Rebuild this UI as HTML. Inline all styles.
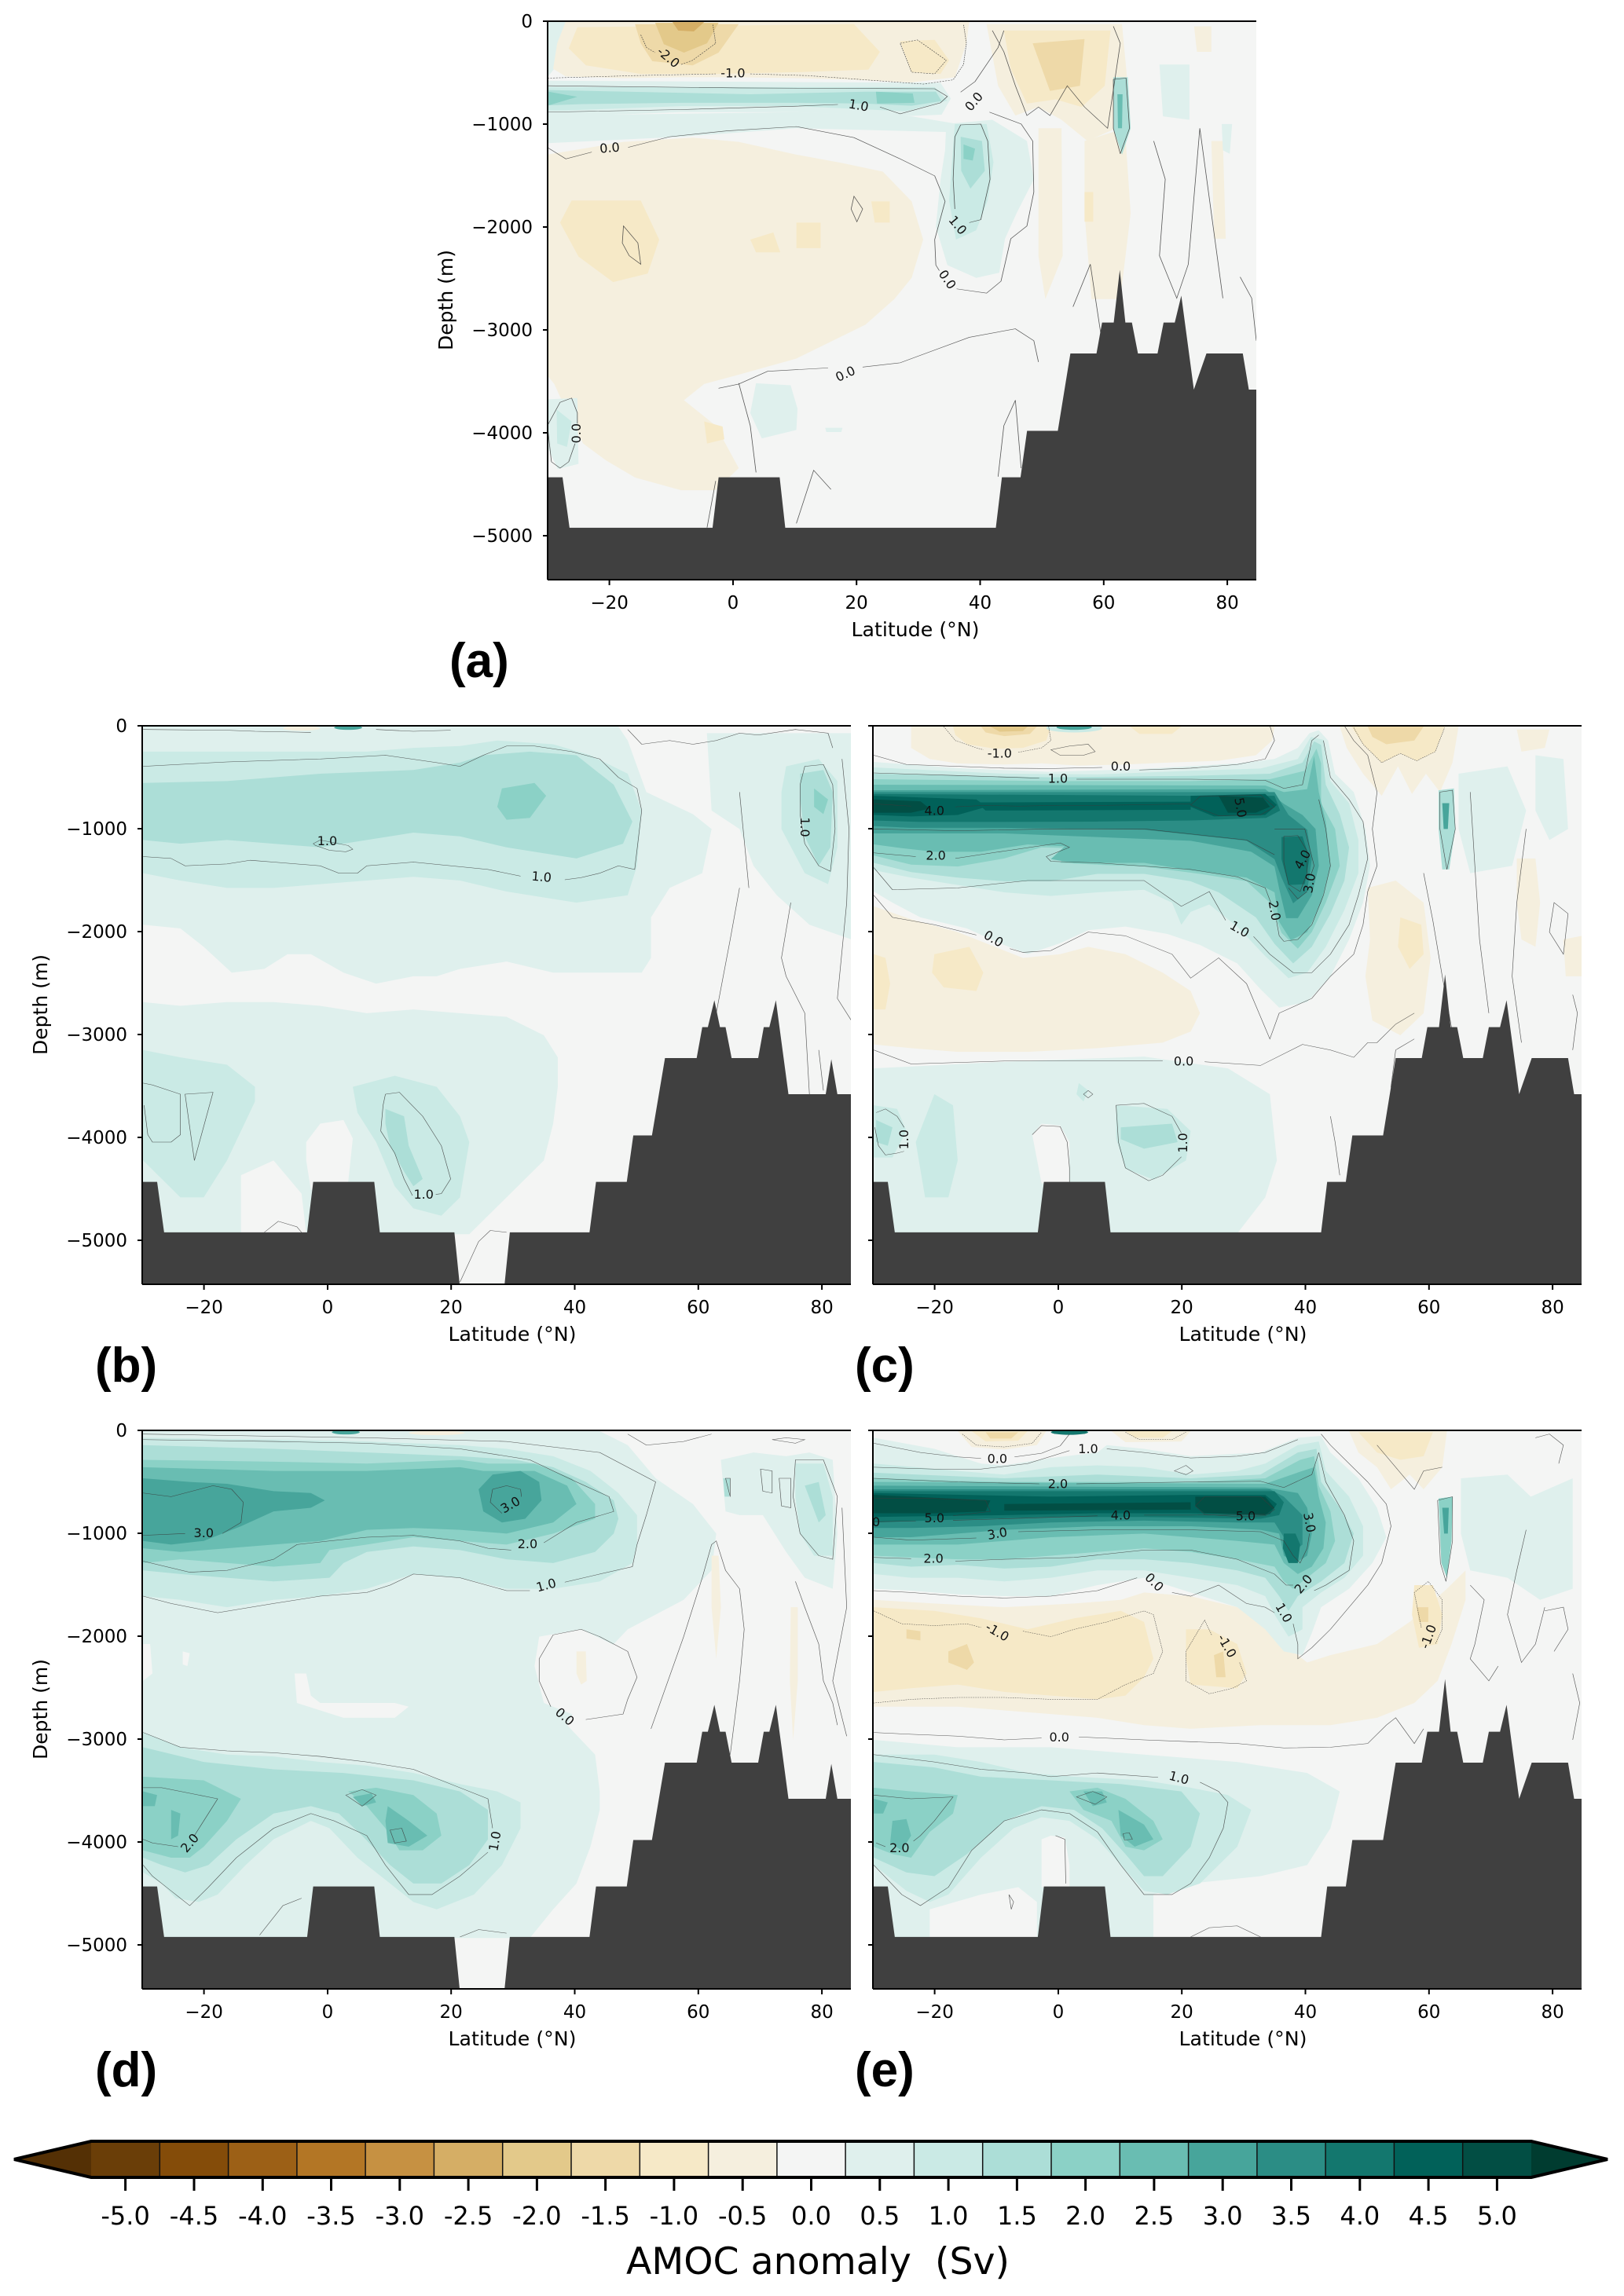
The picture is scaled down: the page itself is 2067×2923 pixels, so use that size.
<!DOCTYPE html>
<html><head><meta charset="utf-8">
<style>
html,body{margin:0;padding:0;background:#fff;}
body{width:2067px;height:2923px;overflow:hidden;}
svg{display:block;}
.cl{fill:none;stroke:#3a3a3a;stroke-width:1.1px;vector-effect:non-scaling-stroke;stroke-opacity:.85;}
.cn{stroke-dasharray:3 2;}
.lb{font-family:"DejaVu Sans","Liberation Sans",sans-serif;font-size:16px;fill:#111;text-anchor:middle;dominant-baseline:central;}
.tk{font-family:"DejaVu Sans","Liberation Sans",sans-serif;font-size:23px;fill:#000;}
.ax{font-family:"DejaVu Sans","Liberation Sans",sans-serif;font-size:25px;fill:#000;}
.pl{font-family:"Liberation Sans","DejaVu Sans",sans-serif;font-size:62px;font-weight:bold;fill:#000;}
.cb{font-family:"DejaVu Sans","Liberation Sans",sans-serif;font-size:32px;fill:#000;text-anchor:middle;}
.sp{stroke:#000;stroke-width:2;fill:none;}
</style></head><body>
<svg width="2067" height="2923" viewBox="0 0 2067 2923" xmlns="http://www.w3.org/2000/svg">
<defs>
<path id="bC" d="M10,1258 L50,1258 L65,1395 L372,1395 L385,1258 L516,1258 L528,1395 L980,1395 L993,1258 L1033,1258 L1047,1132 L1113,1132 L1140,922 L1196,922 L1208,838 L1233,838 L1246,695 L1258,838 L1272,838 L1285,922 L1327,922 L1340,838 L1364,838 L1378,765 L1405,1020 L1432,922 L1510,922 L1523,1020 L1550,1020 L1550,1550 L10,1550 Z"/>
<path id="bB" d="M10,1258 L50,1258 L65,1395 L372,1395 L385,1258 L516,1258 L528,1395 L688,1395 L700,1545 L795,1545 L807,1395 L978,1395 L992,1258 L1058,1258 L1072,1132 L1112,1132 L1140,922 L1208,922 L1220,838 L1232,838 L1246,765 L1258,838 L1270,838 L1283,922 L1340,922 L1352,838 L1364,838 L1378,765 L1405,1020 L1485,1020 L1497,925 L1510,1020 L1550,1020 L1550,1550 L10,1550 Z"/>
</defs>

<!-- ================= PANEL (a) ================= -->
<svg x="697" y="27" width="902" height="711" viewBox="268.4 48 1229.6 1314.5" preserveAspectRatio="none">
<rect x="200" y="0" width="1400" height="1400" fill="#f4f5f4"/>
<polygon fill="#dff0ed" points="268,48 300,48 290,90 280,160 268,180"/>
<polygon fill="#f5efde" points="300,48 1000,48 995,100 975,180 900,192 800,186 700,182 600,180 500,180 400,182 300,178 278,160 285,100"/>
<polygon fill="#f6e9c7" points="320,62 800,55 845,120 825,162 700,168 560,172 430,172 335,152 305,112"/>
<polygon fill="#eed9a8" points="420,55 600,55 565,122 520,152 450,142 430,100"/>
<polygon fill="#e3c98a" points="455,52 565,52 545,100 505,122 470,102"/>
<polygon fill="#d5ae65" points="485,50 540,50 522,72 495,70"/>
<polygon fill="#f6e9c7" points="880,95 940,92 965,140 950,172 900,168"/>
<polygon fill="#f5efde" points="1030,55 1265,55 1275,200 1255,300 1205,330 1160,280 1120,250 1080,270 1050,200"/>
<polygon fill="#f6e9c7" points="1060,70 1245,70 1235,200 1195,250 1150,232 1100,242 1072,160"/>
<polygon fill="#eed9a8" points="1110,100 1200,90 1192,200 1140,212"/>
<polygon fill="#f5efde" points="1390,60 1420,60 1420,120 1395,120"/>
<!-- tan mid -->
<polygon fill="#f5efde" points="268,362 400,332 520,322 600,332 700,362 780,382 850,402 900,472 920,562 900,652 870,702 820,762 760,802 700,842 600,880 540,902 505,940 560,1000 600,1100 560,1152 500,1152 420,1122 370,1082 330,1042 300,962 280,902 268,882"/>
<polygon fill="#f5efde" points="1120,300 1160,300 1162,600 1132,702 1120,600"/>
<polygon fill="#f5efde" points="1200,330 1270,300 1280,500 1262,702 1212,702 1200,500"/>
<polygon fill="#f5efde" points="1420,330 1440,330 1445,560 1425,560"/>
<polygon fill="#f6e9c7" points="310,470 430,470 462,562 442,642 382,662 322,602 290,522"/>
<polygon fill="#f6e9c7" points="620,562 660,545 672,592 630,592"/>
<polygon fill="#f6e9c7" points="700,522 742,522 742,582 700,582"/>
<polygon fill="#f6e9c7" points="540,990 572,1002 575,1032 545,1042"/>
<polygon fill="#f6e9c7" points="830,472 862,472 862,522 836,522"/>
<polygon fill="#f6e9c7" points="1200,450 1215,450 1215,520 1200,520"/>
<!-- teal band -->
<polygon fill="#dff0ed" points="268,270 700,262 900,272 980,290 1000,310 700,300 500,320 268,335"/>
<polygon fill="#dff0ed" points="268,188 950,193 968,230 952,268 880,272 700,262 500,262 300,272 268,275"/>
<polygon fill="#caeae5" points="268,203 940,203 962,235 890,260 700,248 500,248 300,258 268,258"/>
<polygon fill="#acded7" points="268,210 620,220 820,214 942,214 952,236 900,247 820,242 700,240 500,240 330,243 268,246"/>
<polygon fill="#8bd1c6" points="838,214 902,218 905,240 840,242"/>
<polygon fill="#8bd1c6" points="270,214 320,226 270,246"/>
<!-- plume -->
<polygon fill="#dff0ed" points="960,290 1040,280 1100,330 1112,420 1082,500 1062,560 1052,640 1012,652 962,622 942,532 950,422 958,352"/>
<polygon fill="#caeae5" points="975,290 1030,290 1042,380 1032,470 1012,540 977,562 965,470 970,380"/>
<polygon fill="#acded7" points="985,320 1022,330 1027,400 1002,442 986,400"/>
<polygon fill="#8bd1c6" points="990,338 1010,348 1006,376 990,372"/>
<polygon fill="#acded7" points="1250,180 1275,180 1280,300 1265,362 1250,300"/>
<polygon fill="#69bdb2" points="1257,220 1266,220 1265,300 1258,300"/>
<polygon fill="#dff0ed" points="1330,150 1382,150 1382,280 1336,272"/>
<polygon fill="#dff0ed" points="1438,290 1456,290 1452,360 1440,352"/>
<polygon fill="#dff0ed" points="268,938 320,935 322,1090 286,1102 268,1050"/>
<polygon fill="#caeae5" points="284,962 310,990 302,1050 285,1042"/>
<polygon fill="#dff0ed" points="630,900 690,905 702,960 700,1010 640,1030 620,970"/>
<polygon fill="#dff0ed" points="750,1005 780,1005 778,1015 752,1015"/>
<g class="cl">
<path d="M268,345 L300,372 L345,356"/>
<path d="M408,345 L480,320 L580,306 L700,296 L800,322 L880,372 L940,412 L958,472 L940,562 L942,622 L948,635"/>
<path d="M978,678 L1030,688 L1055,660 L1072,560 L1100,530 L1112,450 L1110,330 L1090,290 L1035,262"/>
<path d="M985,215 L1010,190 L1030,150 L1050,110 L1060,70"/>
<path d="M268,262 L500,256 L700,248 L772,244"/>
<path d="M845,250 L880,266 L950,240 L962,225 L940,207 L600,205 L268,200"/>
<path d="M1000,522 L1020,515 L1036,420 L1032,330 L1020,290 L985,292 L975,320 L972,420 L975,490"/>
<path d="M565,912 L600,902 L650,872 L755,864"/>
<path d="M815,862 L880,852 L940,822 L1000,792 L1080,772 L1112,800 L1120,850"/>
<path d="M275,1085 L268,1000 L290,945 L310,935 L320,970 L320,995"/>
<path d="M316,1042 L305,1085 L290,1100 L275,1085"/>
<path d="M600,900 L620,1000 L630,1110"/>
<path d="M700,1230 L730,1105 L760,1150"/>
<path d="M560,1130 L545,1240"/>
<path d="M1050,1120 L1060,1000 L1080,940 L1090,1100"/>
<path d="M1180,720 L1210,620 L1230,800 L1250,900"/>
<path d="M1320,330 L1340,420 L1330,600 L1360,700 L1380,620 L1400,300 L1420,500 L1440,700"/>
<path d="M1470,650 L1490,700 L1498,800"/>
<path d="M1040,70 L1060,120 L1080,200 L1100,270 L1120,250 L1140,270 L1170,200 L1200,250 L1240,300 L1262,100 L1250,60"/>
<path d="M1250,185 L1272,182 L1278,300 L1262,360 L1250,300 Z"/>
<path d="M800,460 L815,490 L805,520 L795,490 Z"/>
<path d="M400,530 L425,570 L430,620 L410,600 L398,570 Z"/>
</g>
<g class="cl cn">
<path d="M268,182 L420,176 L560,172"/>
<path d="M620,172 L720,176 L840,188 L920,196 L972,186 L990,150 L995,100 L990,55"/>
<path d="M430,80 L440,110 L455,122"/>
<path d="M500,150 L520,140 L560,100 L555,55"/>
<path d="M880,100 L910,92 L960,140 L940,172 L900,168 Z"/>
</g>
<g class="lb">
<text transform="translate(478,133) scale(1.3632,1.8488) rotate(40)">-2.0</text>
<text transform="translate(590,170) scale(1.3632,1.8488)">-1.0</text>
<text transform="translate(808,246) scale(1.3632,1.8488) rotate(10)">1.0</text>
<text transform="translate(1008,237) scale(1.3632,1.8488) rotate(-50)">0.0</text>
<text transform="translate(376,346) scale(1.3632,1.8488) rotate(-5)">0.0</text>
<text transform="translate(980,528) scale(1.3632,1.8488) rotate(50)">1.0</text>
<text transform="translate(962,656) scale(1.3632,1.8488) rotate(55)">0.0</text>
<text transform="translate(785,878) scale(1.3632,1.8488) rotate(-25)">0.0</text>
<text transform="translate(318,1018) scale(1.3632,1.8488) rotate(-90)">0.0</text>
</g>
</svg>
<svg x="697" y="27" width="902" height="711" viewBox="18 20 1521 1516" preserveAspectRatio="none"><use href="#bC" fill="#404040"/></svg>

<!-- ================= PANEL (b) ================= -->
<svg x="181" y="924" width="902" height="711" viewBox="18 20 1521 1516" preserveAspectRatio="none">
<rect x="0" y="0" width="1600" height="1600" fill="#f4f5f4"/>
<polygon fill="#dff0ed" points="20,22 1040,22 1060,60 1100,200 1200,260 1240,300 1220,420 1150,460 1110,540 1110,650 1090,690 1000,690 900,690 800,660 700,680 650,700 600,700 520,720 450,690 380,640 330,640 280,680 210,690 150,620 100,570 20,560"/>
<polygon fill="#caeae5" points="20,90 300,90 500,90 600,80 700,75 780,60 900,70 980,100 1060,150 1090,250 1080,400 1060,480 950,500 800,470 700,440 600,430 500,440 400,450 300,460 200,460 100,440 20,420"/>
<polygon fill="#acded7" points="20,175 200,170 400,150 600,140 700,120 750,100 850,90 950,100 1030,180 1070,280 1050,340 950,380 800,350 700,320 600,310 500,330 400,350 300,340 200,330 100,340 20,330"/>
<polygon fill="#8bd1c6" points="790,190 860,175 885,210 850,270 800,275 780,240"/>
<polygon fill="#dff0ed" points="1230,40 1540,40 1540,600 1450,560 1380,480 1330,400 1300,300 1240,250"/>
<polygon fill="#caeae5" points="1400,130 1470,110 1510,170 1510,350 1490,450 1440,420 1390,300 1390,200"/>
<polygon fill="#acded7" points="1430,150 1480,140 1500,200 1495,350 1470,400 1440,320 1430,220"/>
<polygon fill="#8bd1c6" points="1460,190 1490,220 1480,260 1460,240"/>
<ellipse cx="360" cy="27" rx="40" ry="6" fill="#f5efde"/>
<ellipse cx="460" cy="25" rx="30" ry="6" fill="#47a59b"/>
<polygon fill="#dff0ed" points="20,770 100,780 200,770 300,770 400,780 500,800 600,790 700,800 800,810 880,860 910,920 910,1000 900,1100 880,1200 800,1300 720,1400 20,1400"/>
<polygon fill="#f4f5f4" points="370,1150 400,1100 450,1090 470,1140 460,1260 380,1280 370,1200"/>
<polygon fill="#f4f5f4" points="230,1240 300,1200 360,1290 370,1398 230,1398"/>
<polygon fill="#caeae5" points="20,900 100,920 200,940 260,1000 260,1040 200,1200 150,1300 100,1300 60,1250 20,1200"/>
<polygon fill="#caeae5" points="470,1000 560,970 650,1000 700,1080 720,1150 700,1300 660,1350 600,1330 560,1270 520,1150 480,1070"/>
<polygon fill="#acded7" points="540,1060 580,1080 590,1160 620,1250 600,1270 580,1230 550,1160 540,1100"/>
<g class="cl">
<path d="M20,130 L200,118 L400,110 L540,100 L650,120 L700,130 L750,100 L800,75 L860,75 L940,90 L1000,110 L1040,160 L1080,190 L1090,250 L1075,410 L1040,400 L1000,420 L960,432 L925,438"/>
<path d="M830,428 L760,410 L600,390 L500,400 L480,420 L440,420 L400,400 L300,390 L250,385 L200,395 L110,400 L80,380 L20,375"/>
<path d="M385,340 L400,330 L460,345 L470,355 L455,362 L420,358 L390,345 Z"/>
<path d="M1440,130 L1480,125 L1500,180 L1505,300 L1495,415 L1470,400 L1440,340 L1430,260 L1430,180 Z"/>
<path d="M540,1020 L570,1015 L620,1080 L660,1160 L680,1250 L660,1290 L648,1292"/>
<path d="M598,1295 L580,1250 L560,1180 L530,1120 L535,1050 L540,1020"/>
<path d="M20,990 L40,995 L100,1020 L100,1130 L80,1150 L40,1150 L30,1130 L22,1050"/>
<path d="M110,1020 L170,1015 L130,1200 Z"/>
<path d="M20,30 L200,32 L260,35 L380,38"/>
<path d="M520,30 L600,35 L680,32"/>
<path d="M1060,30 L1090,70 L1150,60 L1200,70 L1250,60 L1300,40 L1340,45 L1420,30 L1490,40 L1500,80"/>
<path d="M1300,460 L1280,600 L1250,800 L1260,900"/>
<path d="M1410,500 L1390,650 L1400,700 L1440,800 L1450,1020"/>
<path d="M1520,110 L1535,300 L1530,500 L1510,760 L1540,820"/>
<path d="M1300,200 L1320,460"/>
<path d="M1470,900 L1480,1010"/>
<path d="M700,1530 L740,1420 L765,1390 L800,1395"/>
<path d="M280,1395 L310,1365 L350,1380 L360,1395"/>
</g>
<g class="lb">
<text transform="translate(415,332) scale(1.6863,2.1322)">1.0</text>
<text transform="translate(875,430) scale(1.6863,2.1322) rotate(5)">1.0</text>
<text transform="translate(1440,295) scale(1.6863,2.1322) rotate(90)">1.0</text>
<text transform="translate(622,1292) scale(1.6863,2.1322)">1.0</text>
</g>
<use href="#bB" fill="#404040"/>
</svg>

<!-- ================= PANEL (c) ================= -->
<svg x="1111" y="924" width="902" height="711" viewBox="18 20 1521 1516" preserveAspectRatio="none">
<rect x="0" y="0" width="1600" height="1600" fill="#f4f5f4"/>
<polygon fill="#f5efde" points="100,20 880,20 875,60 840,100 760,115 650,120 560,125 460,128 380,122 300,125 200,122 140,110 100,80"/>
<polygon fill="#f6e9c7" points="190,22 400,22 390,60 340,80 280,82 220,70 195,45"/>
<polygon fill="#eed9a8" points="250,22 370,22 355,42 300,48 260,38"/>
<polygon fill="#e3c98a" points="270,22 350,22 340,34 290,36"/>
<polygon fill="#f6e9c7" points="570,22 680,22 660,42 590,42"/>
<polygon fill="#f5efde" points="1020,22 1275,22 1262,120 1235,200 1205,150 1175,205 1145,130 1110,210 1070,150 1035,80"/>
<polygon fill="#f6e9c7" points="1045,22 1245,22 1225,90 1185,115 1150,95 1110,120 1070,70"/>
<polygon fill="#eed9a8" points="1080,22 1200,22 1180,60 1120,70 1090,50"/>
<polygon fill="#f5efde" points="1400,30 1470,30 1460,80 1410,90"/>
<polygon fill="#f5efde" points="20,510 100,545 200,580 280,620 340,650 420,640 480,620 560,640 640,690 700,740 720,800 700,850 640,880 500,895 350,905 200,905 100,895 20,885"/>
<polygon fill="#f6e9c7" points="150,640 225,620 255,690 240,740 170,730 145,690"/>
<polygon fill="#f6e9c7" points="20,640 45,650 55,720 45,790 20,790"/>
<polygon fill="#f5efde" points="1080,460 1140,440 1200,500 1215,650 1200,800 1150,860 1090,820 1075,700 1085,600"/>
<polygon fill="#f6e9c7" points="1150,540 1195,560 1200,640 1170,680 1145,620"/>
<polygon fill="#f5efde" points="1400,380 1440,380 1450,500 1440,620 1410,600 1400,500"/>
<polygon fill="#f5efde" points="1500,600 1540,590 1540,700 1505,700"/>
<polygon fill="#dff0ed" points="20,118 200,135 400,145 600,137 800,122 880,110 930,80 955,40 975,32 995,60 1010,150 1050,200 1075,300 1085,400 1070,500 1040,600 1000,700 950,770 890,785 850,735 800,665 720,615 650,585 560,565 480,575 420,610 350,640 290,610 220,570 120,540 60,500 20,470"/>
<polygon fill="#caeae5" points="20,133 300,150 500,152 700,142 850,136 930,110 958,50 985,58 1000,170 1040,230 1060,330 1060,420 1030,520 990,620 950,690 910,705 860,645 800,565 740,505 700,525 680,560 660,500 600,465 500,472 400,482 300,472 200,452 100,432 20,412"/>
<polygon fill="#acded7" points="20,150 400,160 700,156 870,150 940,120 965,62 980,72 990,180 1020,260 1040,350 1030,440 1000,530 960,620 920,665 880,612 840,540 760,472 700,442 600,422 500,422 400,442 300,442 200,432 100,417 20,392"/>
<polygon fill="#8bd1c6" points="20,165 400,170 700,170 870,165 945,142 970,82 980,122 980,230 1010,300 1020,400 990,500 960,580 930,625 895,582 870,500 820,442 720,422 600,402 500,397 420,392 440,352 380,350 300,380 200,402 100,397 20,372"/>
<polygon fill="#69bdb2" points="20,180 860,182 900,200 950,192 965,102 975,200 990,280 1000,400 980,500 950,580 915,602 890,552 880,472 820,432 700,412 600,392 450,392 400,382 430,347 350,342 250,362 150,362 80,352 20,342"/>
<polygon fill="#47a59b" points="20,195 860,192 900,232 940,262 968,300 975,400 960,480 930,542 905,542 890,462 880,402 830,362 700,332 500,322 300,312 150,312 20,312"/>
<polygon fill="#2b8d85" points="20,200 880,200 910,262 950,302 960,382 950,470 920,502 895,432 880,382 820,332 600,302 300,297 100,297 20,292"/>
<polygon fill="#13776e" points="20,205 700,210 880,210 892,250 862,270 700,277 500,280 300,281 120,281 20,277"/>
<polygon fill="#13776e" points="895,322 940,320 955,380 945,450 910,452 895,382"/>
<polygon fill="#016159" points="20,210 240,220 262,240 200,262 100,266 20,262"/>
<polygon fill="#016159" points="700,210 860,205 885,235 860,262 750,266 700,240"/>
<polygon fill="#016159" points="240,228 700,226 700,248 260,250"/>
<polygon fill="#024e44" points="20,220 120,225 140,245 100,256 20,256"/>
<polygon fill="#024e44" points="760,210 855,215 870,240 840,256 780,256"/>
<ellipse cx="450" cy="26" rx="60" ry="12" fill="#caeae5"/>
<ellipse cx="450" cy="24" rx="38" ry="7" fill="#47a59b"/>
<polygon fill="#dff0ed" points="1275,150 1380,130 1420,250 1390,400 1300,420 1275,300"/>
<polygon fill="#dff0ed" points="1440,100 1500,110 1510,300 1470,330 1440,250"/>
<polygon fill="#acded7" points="1232,195 1265,190 1268,300 1255,410 1240,410 1232,300"/>
<polygon fill="#47a59b" points="1240,230 1255,230 1252,300 1243,300"/>
<polygon fill="#dff0ed" points="20,950 300,932 600,918 780,950 870,1020 885,1200 860,1300 800,1398 20,1398"/>
<polygon fill="#f4f5f4" points="360,1130 380,1100 420,1105 440,1150 440,1262 380,1262"/>
<polygon fill="#caeae5" points="20,1050 70,1060 90,1120 60,1192 20,1192"/>
<polygon fill="#caeae5" points="150,1020 190,1050 200,1200 180,1300 130,1300 110,1150"/>
<polygon fill="#caeae5" points="540,1050 650,1060 700,1120 690,1200 620,1252 560,1222 540,1140"/>
<polygon fill="#caeae5" points="460,990 480,1010 470,1040 455,1020"/>
<polygon fill="#acded7" points="550,1110 660,1100 672,1150 600,1168 550,1142"/>
<polygon fill="#acded7" points="25,1090 60,1110 50,1160 25,1150"/>
<g class="cl">
<path d="M20,100 L90,125 L200,130 L300,135 L400,136 L510,133"/>
<path d="M590,140 L700,135 L800,125 L860,110 L880,60 L870,20"/>
<path d="M400,85 L440,75 L480,70 L495,90 L470,100 L420,100 Z"/>
<path d="M20,148 L200,155 L375,162"/>
<path d="M455,165 L700,165 L860,168 L900,190 L940,180 L960,60 L975,45"/>
<path d="M20,232 L100,238"/>
<path d="M195,240 L260,236 L330,238 L420,236 L520,236 L700,232"/>
<path d="M700,235 L720,212 L850,208 L880,240 L850,262 L760,264 Z"/>
<path d="M20,300 L200,305 L400,300 L600,300 L820,330 L880,370"/>
<path d="M20,365 L110,375"/>
<path d="M195,380 L300,360 L420,338 L440,350 L390,375 L400,388 L500,392 L700,410 L800,430 L860,460 L872,500"/>
<path d="M900,320 L930,318 L950,360 L950,420 L935,470 L910,450 L900,390 Z"/>
<path d="M880,300 L945,300 L965,400 L958,425"/>
<path d="M950,470 L930,490 L910,460"/>
<path d="M884,548 L890,590 L900,605 L930,600 L960,560 L985,480 L1000,400 L990,300 L975,220"/>
<path d="M20,405 L60,465 L200,460 L350,440 L500,440 L600,440 L680,510 L740,470 L775,548"/>
<path d="M835,592 L870,640 L920,690 L960,690 L1000,640 L1040,560 L1060,480 L1080,380 L1070,280 L1040,220 L1000,160 L985,60"/>
<path d="M20,480 L60,540 L150,560 L240,588"/>
<path d="M312,625 L340,635 L400,630 L480,580 L560,590 L660,640 L700,705 L760,650 L820,720 L870,870 L890,800 L960,760 L1000,700 L1050,640 L1070,560 L1080,470 L1100,400 L1090,300 L1100,200 L1080,100 L1050,60 L1030,20"/>
<path d="M20,900 L100,938 L300,930 L640,930"/>
<path d="M730,932 L850,942 L940,885 L1000,900 L1050,920 L1080,880 L1100,880 L1140,830 L1180,800"/>
<path d="M25,1070 L45,1060 L70,1080 L85,1110"/>
<path d="M85,1175 L70,1180 L45,1185 L30,1160 L22,1110"/>
<path d="M680,1125 L660,1080 L600,1045 L540,1050 L545,1150 L560,1220 L610,1255 L640,1240 L680,1190"/>
<path d="M360,1130 L380,1105 L420,1108 L435,1150 L440,1220 L440,1260"/>
<path d="M480,1010 L490,1020 L480,1030 L470,1020 Z"/>
<path d="M1160,1130 L1130,1000 L1140,900 L1180,870"/>
<path d="M1200,420 L1220,550 L1240,700 L1260,840"/>
<path d="M1300,200 L1310,400 L1320,600 L1340,800"/>
<path d="M1420,300 L1400,500 L1390,700 L1410,880"/>
<path d="M1480,500 L1510,530 L1500,640 L1470,580 Z"/>
<path d="M1520,750 L1530,800 L1520,900"/>
<path d="M1235,200 L1262,195 L1268,300 L1250,410 L1235,300 Z"/>
<path d="M1000,1080 L1010,1150 L1020,1240"/>
</g>
<g class="cl cn">
<path d="M170,22 L195,60 L240,80 L255,85"/>
<path d="M330,92 L380,80 L400,60 L395,20"/>
<path d="M1050,25 L1070,70 L1110,120 L1150,95 L1185,115 L1225,90 L1245,25"/>
</g>
<g class="lb">
<text transform="translate(290,95) scale(1.6863,2.1322)">-1.0</text>
<text transform="translate(550,130) scale(1.6863,2.1322)">0.0</text>
<text transform="translate(415,163) scale(1.6863,2.1322)">1.0</text>
<text transform="translate(150,250) scale(1.6863,2.1322)">4.0</text>
<text transform="translate(807,242) scale(1.6863,2.1322) rotate(80)">5.0</text>
<text transform="translate(153,372) scale(1.6863,2.1322)">2.0</text>
<text transform="translate(940,383) scale(1.6863,2.1322) rotate(-60)">4.0</text>
<text transform="translate(955,447) scale(1.6863,2.1322) rotate(-80)">3.0</text>
<text transform="translate(880,522) scale(1.6863,2.1322) rotate(80)">2.0</text>
<text transform="translate(805,572) scale(1.6863,2.1322) rotate(30)">1.0</text>
<text transform="translate(277,598) scale(1.6863,2.1322) rotate(30)">0.0</text>
<text transform="translate(685,930) scale(1.6863,2.1322)">0.0</text>
<text transform="translate(85,1143) scale(1.6863,2.1322) rotate(-90)">1.0</text>
<text transform="translate(683,1152) scale(1.6863,2.1322) rotate(-90)">1.0</text>
</g>
<use href="#bC" fill="#404040"/>
</svg>

<!-- ================= PANEL (d) ================= -->
<svg x="181" y="1821" width="902" height="711" viewBox="18 20 1521 1516" preserveAspectRatio="none">
<rect x="0" y="0" width="1600" height="1600" fill="#f4f5f4"/>
<polygon fill="#dff0ed" points="20,22 1000,22 1060,60 1120,150 1200,220 1250,300 1240,400 1180,480 1120,520 1060,560 1000,640 930,820 990,900 1000,1000 1000,1050 980,1150 950,1250 900,1320 850,1398 20,1398"/>
<polygon fill="#f4f5f4" points="870,580 960,560 1060,620 1080,700 1040,780 960,800 880,760 860,660"/>
<polygon fill="#f4f5f4" points="20,600 35,600 40,680 20,700"/>
<polygon fill="#f4f5f4" points="345,680 370,680 380,740 400,760 560,760 590,770 560,800 450,800 350,760"/>
<polygon fill="#f4f5f4" points="105,620 120,625 115,660 105,655"/>
<polygon fill="#caeae5" points="20,40 300,45 500,50 700,60 800,70 900,90 980,130 1040,190 1080,250 1080,330 1070,380 1000,430 900,450 800,450 700,420 600,410 500,450 400,470 300,480 200,500 100,480 20,470"/>
<polygon fill="#acded7" points="20,60 300,70 500,80 700,90 820,100 900,120 970,160 1030,210 1040,260 1030,300 990,350 900,380 800,370 700,345 600,335 500,350 450,380 420,420 300,430 200,420 100,410 20,400"/>
<polygon fill="#8bd1c6" points="20,100 300,105 500,110 700,100 760,110 860,110 940,150 990,220 990,260 900,300 800,330 700,320 600,310 500,330 420,345 400,380 300,390 200,380 100,370 20,380"/>
<polygon fill="#69bdb2" points="20,120 300,130 500,130 700,120 750,130 860,130 930,170 950,220 900,270 800,300 700,290 600,285 500,290 400,320 300,330 200,340 100,350 20,340"/>
<polygon fill="#47a59b" points="20,150 120,160 200,165 300,185 380,190 410,210 380,230 300,240 230,280 150,320 80,330 20,320"/>
<polygon fill="#47a59b" points="740,180 770,140 830,130 870,160 875,210 840,260 790,270 750,240"/>
<ellipse cx="455" cy="25" rx="30" ry="6" fill="#47a59b"/>
<ellipse cx="650" cy="27" rx="60" ry="6" fill="#f5efde"/>
<polygon fill="#caeae5" points="20,840 100,880 200,900 300,905 400,920 500,930 600,950 700,980 780,1000 830,1030 830,1100 790,1200 730,1280 650,1320 600,1300 540,1240 480,1180 420,1100 380,1080 300,1130 240,1200 180,1280 140,1300 90,1290 60,1250 20,1220"/>
<polygon fill="#acded7" points="20,880 150,920 300,940 450,950 600,970 700,1000 760,1050 760,1130 720,1200 660,1250 600,1250 550,1200 490,1120 440,1060 380,1040 300,1060 220,1130 160,1200 110,1220 60,1200 20,1180"/>
<polygon fill="#8bd1c6" points="20,960 150,970 230,1020 200,1080 150,1150 120,1180 80,1180 20,1160"/>
<polygon fill="#8bd1c6" points="460,1000 520,990 600,1010 650,1060 660,1120 620,1160 570,1160 540,1100 500,1040"/>
<polygon fill="#69bdb2" points="20,1000 50,1010 45,1040 20,1040"/>
<polygon fill="#69bdb2" points="80,1050 100,1060 95,1120 80,1130"/>
<polygon fill="#69bdb2" points="470,1015 510,1005 520,1030 490,1040"/>
<polygon fill="#69bdb2" points="545,1040 590,1080 630,1120 590,1150 545,1140 540,1080"/>
<polygon fill="#dff0ed" points="1260,100 1330,80 1400,90 1450,80 1500,100 1510,300 1500,450 1440,420 1400,350 1350,250 1300,250 1270,240"/>
<polygon fill="#caeae5" points="1420,110 1480,110 1500,200 1500,360 1460,360 1430,300 1420,200"/>
<polygon fill="#acded7" points="1440,170 1470,160 1485,250 1470,270"/>
<polygon fill="#acded7" points="1265,150 1280,150 1278,200 1268,200"/>
<polygon fill="#f5efde" points="1240,360 1255,360 1260,500 1250,640 1240,500"/>
<polygon fill="#f5efde" points="1410,500 1425,500 1425,700 1415,860 1408,700"/>
<polygon fill="#f5efde" points="950,620 970,620 972,700 960,710 950,680"/>
<g class="cl">
<path d="M20,190 L80,200 L170,170 L210,180 L235,215 L230,270 L190,300"/>
<path d="M110,300 L20,305"/>
<path d="M770,180 L800,170 L830,180 L832,200"/>
<path d="M790,245 L765,215 L770,180"/>
<path d="M20,375 L120,405 L200,400 L300,370 L350,330 L420,320 L500,310 L600,305 L700,320 L760,340 L810,345"/>
<path d="M880,325 L950,270 L1030,240 L1020,200 L950,160 L850,100 L700,70 L500,55 L300,50 L20,45"/>
<path d="M20,470 L80,490 L180,515 L300,490 L400,470 L500,460 L550,440 L600,410 L700,420 L800,455 L850,455"/>
<path d="M925,432 L1000,410 L1070,390 L1080,330 L1100,250 L1120,160 L1000,80 L800,50 L500,40 L20,30"/>
<path d="M895,770 L870,700 L870,640 L900,575 L960,560 L1000,580 L1060,620 L1080,690 L1060,750 L1050,790 L970,805"/>
<path d="M20,990 L60,990 L180,1020 L140,1100 L130,1120"/>
<path d="M95,1150 L40,1140 L20,1130"/>
<path d="M20,840 L100,880 L200,890 L300,895 L400,905 L500,920 L600,940 L700,990 L760,1020 L770,1100"/>
<path d="M760,1165 L700,1230 L640,1280 L590,1280 L540,1200 L500,1120 L430,1080 L380,1060 L300,1100 L220,1180 L160,1260 L120,1310 L80,1270 L40,1230 L20,1200"/>
<path d="M455,1010 L490,995 L520,1010 L490,1040 Z"/>
<path d="M550,1105 L575,1100 L585,1135 L560,1140 Z"/>
<path d="M1420,100 L1480,100 L1510,200 L1500,370 L1470,360 L1430,300 L1415,200 Z"/>
<path d="M1345,125 L1370,130 L1370,190 L1350,185 Z"/>
<path d="M1385,150 L1410,150 L1410,230 L1390,225 Z"/>
<path d="M1270,150 L1280,150 L1280,200 Z"/>
<path d="M1110,830 L1180,580 L1220,420 L1240,330 L1250,320 L1270,400 L1300,450 L1310,560 L1300,700 L1280,900"/>
<path d="M1420,430 L1440,500 L1470,600 L1480,700 L1500,760 L1510,820"/>
<path d="M1520,230 L1530,500 L1500,700 L1530,850"/>
<path d="M1060,30 L1100,60 L1180,50 L1240,30"/>
<path d="M1370,45 L1400,40 L1440,45 L1420,55 Z"/>
<path d="M270,1390 L320,1310 L360,1290"/>
<path d="M700,1395 L740,1375 L800,1385"/>
</g>
<g class="lb">
<text transform="translate(150,298) scale(1.6863,2.1322)">3.0</text>
<text transform="translate(808,222) scale(1.6863,2.1322) rotate(-30)">3.0</text>
<text transform="translate(845,328) scale(1.6863,2.1322)">2.0</text>
<text transform="translate(885,440) scale(1.6863,2.1322) rotate(-15)">1.0</text>
<text transform="translate(925,797) scale(1.6863,2.1322) rotate(40)">0.0</text>
<text transform="translate(120,1140) scale(1.6863,2.1322) rotate(-50)">2.0</text>
<text transform="translate(775,1135) scale(1.6863,2.1322) rotate(-80)">1.0</text>
</g>
<use href="#bB" fill="#404040"/>
</svg>

<!-- ================= PANEL (e) ================= -->
<svg x="1111" y="1821" width="902" height="711" viewBox="18 20 1521 1516" preserveAspectRatio="none">
<rect x="0" y="0" width="1600" height="1600" fill="#f4f5f4"/>
<polygon fill="#f5efde" points="200,22 390,22 370,60 300,72 230,65"/>
<polygon fill="#f6e9c7" points="230,22 350,22 330,48 260,50"/>
<polygon fill="#eed9a8" points="260,25 330,25 315,42 270,42"/>
<polygon fill="#f5efde" points="530,22 700,22 680,50 560,52"/>
<polygon fill="#f6e9c7" points="560,22 660,22 640,40 580,40"/>
<polygon fill="#f5efde" points="1040,22 1250,22 1240,120 1200,180 1170,140 1130,180 1100,120 1060,80"/>
<polygon fill="#f6e9c7" points="1060,25 1220,25 1200,90 1150,100 1100,80"/>
<polygon fill="#f5efde" points="20,480 150,490 300,500 450,490 550,480 600,460 700,470 800,500 860,540 900,600 950,650 1000,630 1100,600 1170,540 1250,450 1290,400 1290,480 1260,600 1230,700 1180,760 1100,800 1000,820 850,820 700,830 600,820 500,800 400,790 300,780 200,770 100,770 20,770"/>
<polygon fill="#f6e9c7" points="20,500 150,510 250,530 350,560 450,530 550,510 600,540 620,640 600,690 560,740 500,750 400,740 300,730 200,710 100,720 20,730"/>
<polygon fill="#f6e9c7" points="690,560 740,560 800,600 820,680 800,720 700,710 690,640"/>
<polygon fill="#f6e9c7" points="1180,440 1220,440 1240,520 1230,600 1190,610 1175,520"/>
<polygon fill="#eed9a8" points="180,620 220,600 235,650 220,670 180,650"/>
<polygon fill="#eed9a8" points="90,560 120,565 120,590 90,585"/>
<polygon fill="#eed9a8" points="750,630 770,620 775,690 755,690"/>
<polygon fill="#eed9a8" points="1185,500 1210,500 1210,540 1190,540"/>
<polygon fill="#dff0ed" points="20,40 150,70 250,110 300,115 400,95 500,80 520,60 600,70 700,90 850,80 930,40 980,35 1000,80 1060,150 1100,230 1120,310 1090,380 1040,450 980,500 960,570 940,630 900,620 860,560 800,500 700,460 650,440 600,420 500,440 400,470 300,470 200,465 100,455 20,450"/>
<polygon fill="#caeae5" points="20,110 200,130 300,140 400,120 500,115 600,120 700,140 800,130 860,110 930,60 975,50 990,130 1040,200 1070,280 1070,360 1030,420 980,460 940,500 940,560 910,580 880,520 860,470 800,440 700,420 600,400 500,400 400,420 300,430 200,420 100,420 20,410"/>
<polygon fill="#acded7" points="20,135 300,150 500,140 700,150 850,140 930,80 970,70 980,160 1020,230 1050,300 1030,380 980,430 930,470 910,510 890,470 860,420 800,400 700,380 600,370 500,370 400,390 300,395 200,385 100,390 20,380"/>
<polygon fill="#8bd1c6" points="20,150 300,160 700,160 860,150 935,100 965,90 975,170 1000,240 1010,320 990,380 950,420 920,450 900,430 880,390 800,370 700,350 600,340 500,350 400,360 300,370 200,370 100,365 20,360"/>
<polygon fill="#69bdb2" points="20,160 860,165 940,130 965,120 975,200 990,270 985,340 960,390 930,410 900,380 880,330 800,320 700,310 600,300 400,310 300,320 200,330 100,330 20,330"/>
<polygon fill="#47a59b" points="20,170 860,175 930,190 950,230 960,300 950,360 925,380 900,360 890,300 850,290 700,280 500,280 300,290 100,310 20,310"/>
<polygon fill="#2b8d85" points="20,180 870,180 900,200 940,250 940,330 920,350 900,310 880,270 800,270 600,265 400,270 250,280 100,285 20,285"/>
<polygon fill="#13776e" points="20,185 880,185 900,215 890,250 850,260 600,255 400,255 200,262 20,270"/>
<polygon fill="#13776e" points="900,300 925,300 935,330 930,380 910,380 898,340"/>
<polygon fill="#016159" points="20,190 400,200 700,195 860,195 885,220 870,248 700,245 500,245 300,250 20,255"/>
<polygon fill="#024e44" points="20,195 270,210 260,240 150,245 20,245"/>
<polygon fill="#024e44" points="710,200 860,200 880,230 860,250 730,245 710,225"/>
<polygon fill="#024e44" points="300,220 700,215 700,235 300,238"/>
<ellipse cx="440" cy="25" rx="40" ry="7" fill="#13776e"/>
<polygon fill="#dff0ed" points="1280,150 1380,140 1430,200 1520,150 1520,450 1450,480 1380,420 1300,400 1280,300"/>
<polygon fill="#8bd1c6" points="1232,205 1262,200 1260,320 1250,420 1238,380"/>
<polygon fill="#47a59b" points="1240,230 1254,230 1252,300 1244,300"/>
<polygon fill="#dff0ed" points="20,860 200,880 400,880 600,900 800,920 950,950 1020,1000 1000,1100 950,1200 900,1300 850,1398 20,1398"/>
<polygon fill="#f4f5f4" points="380,1130 400,1120 430,1125 440,1200 440,1260 380,1260"/>
<polygon fill="#f4f5f4" points="140,1320 250,1280 330,1260 370,1300 370,1398 140,1398"/>
<polygon fill="#f4f5f4" points="620,1280 700,1250 850,1230 950,1200 980,1398 620,1398"/>
<polygon fill="#caeae5" points="20,900 150,900 250,920 350,950 450,960 600,970 700,990 780,1010 830,1050 800,1150 720,1250 650,1280 600,1270 550,1200 500,1130 440,1080 380,1070 320,1100 250,1180 180,1280 140,1300 90,1270 20,1200"/>
<polygon fill="#acded7" points="20,920 150,935 250,960 400,970 550,980 680,1000 720,1060 700,1150 640,1230 600,1230 560,1170 510,1100 450,1050 380,1040 300,1080 220,1170 150,1230 90,1220 20,1180"/>
<polygon fill="#8bd1c6" points="20,990 100,1000 200,1010 190,1060 140,1110 100,1180 60,1170 20,1150"/>
<polygon fill="#8bd1c6" points="440,1000 500,990 560,1020 620,1080 640,1130 600,1160 560,1150 530,1080 470,1050"/>
<polygon fill="#69bdb2" points="20,1020 50,1030 40,1060 20,1060"/>
<polygon fill="#69bdb2" points="60,1080 90,1075 100,1120 80,1160 55,1140"/>
<polygon fill="#69bdb2" points="470,1000 510,1000 520,1030 490,1040"/>
<polygon fill="#69bdb2" points="545,1050 600,1090 620,1130 580,1150 550,1120"/>
<g class="cl">
<path d="M20,55 L120,80 L200,92 L250,96"/>
<path d="M322,92 L380,82 L420,62 L440,30"/>
<path d="M20,120 L150,125 L250,125 L350,110 L440,75"/>
<path d="M520,70 L600,80 L700,95 L800,90 L860,80 L930,45"/>
<path d="M665,130 L690,115 L705,130 L690,140 Z"/>
<path d="M20,150 L200,160 L375,165"/>
<path d="M455,165 L700,160 L850,158 L900,175 L960,140 L975,80 L990,160 L1030,250 L1050,320 L1040,400 L990,440 L965,455"/>
<path d="M20,205 L150,205 L260,210 L270,240 L190,252"/>
<path d="M20,268 L110,266"/>
<path d="M190,264 L250,262 L500,252"/>
<path d="M600,250 L700,250 L860,248"/>
<path d="M710,225 L730,200 L850,200 L880,235 L860,252 L800,254 L730,248 Z"/>
<path d="M20,310 L100,318 L240,312"/>
<path d="M330,295 L500,290 L700,290 L850,295 L900,320 L920,360 L935,380 L950,340 L955,300"/>
<path d="M20,365 L100,368"/>
<path d="M195,375 L300,370 L450,365 L600,345 L700,345 L800,370 L880,410 L905,440 L920,440"/>
<path d="M20,455 L100,460 L200,470 L300,475 L400,470 L500,455 L585,420"/>
<path d="M660,460 L700,470 L760,440 L820,490 L860,500 L880,515"/>
<path d="M920,545 L930,600 L930,640 L960,610 L1000,560 L1040,500 L1080,440 L1110,380 L1130,280 L1120,220 L1080,160 L1000,60 L980,30"/>
<path d="M20,840 L100,845 L200,850 L300,860 L380,855"/>
<path d="M460,852 L600,860 L800,870 L900,882 L1000,880 L1080,870 L1120,820 L1140,800 L1180,870 L1200,830"/>
<path d="M20,900 L150,920 L250,940 L350,950 L400,960 L500,950 L630,962"/>
<path d="M720,975 L760,1000 L780,1030 L770,1100 L740,1180 L700,1250 L660,1280 L600,1280 L550,1200 L500,1110 L440,1060 L380,1050 L300,1080 L230,1160 L180,1260 L120,1310 L80,1280 L50,1240 L20,1200"/>
<path d="M20,1010 L100,1020 L190,1015 L150,1080 L120,1120 L105,1135"/>
<path d="M45,1150 L25,1140"/>
<path d="M455,1015 L490,1000 L520,1015 L495,1035 Z"/>
<path d="M555,1115 L568,1112 L575,1130 L558,1132 Z"/>
<path d="M1230,210 L1262,200 L1262,320 L1248,430 L1236,380 Z"/>
<path d="M1100,60 L1140,120 L1180,180 L1200,130 L1240,120"/>
<path d="M1300,440 L1330,480 L1310,600 L1300,640 L1340,700 L1360,660"/>
<path d="M1420,290 L1400,400 L1380,520 L1410,650 L1440,600 L1460,500"/>
<path d="M1460,510 L1500,500 L1510,560 L1480,620"/>
<path d="M1520,680 L1535,760 L1520,860"/>
<path d="M1440,40 L1470,30 L1500,60 L1490,110"/>
<path d="M410,1120 L430,1130 L432,1250"/>
<path d="M700,1395 L740,1370 L800,1365 L850,1395"/>
<path d="M310,1280 L320,1300 L315,1320 Z"/>
</g>
<g class="cl cn">
<path d="M20,510 L80,545 L150,550 L220,545 L250,555"/>
<path d="M340,565 L400,580 L450,560 L520,540 L600,510 L620,520 L640,620 L620,680 L560,710 L500,750 L400,750 L300,745 L200,745 L100,750 L20,760"/>
<path d="M745,575 L730,535 L690,620 L690,700 L740,735 L790,720 L820,700 L805,650"/>
<path d="M1195,555 L1180,460 L1210,430 L1240,480 L1240,560 L1225,600"/>
<path d="M210,30 L240,60 L300,65 L360,55 L380,25"/>
<path d="M560,25 L590,45 L660,45 L690,25"/>
</g>
<g class="lb">
<text transform="translate(285,97) scale(1.6863,2.1322)">0.0</text>
<text transform="translate(480,70) scale(1.6863,2.1322)">1.0</text>
<text transform="translate(415,165) scale(1.6863,2.1322)">2.0</text>
<text transform="translate(150,258) scale(1.6863,2.1322)">5.0</text>
<text transform="translate(550,250) scale(1.6863,2.1322)">4.0</text>
<text transform="translate(818,252) scale(1.6863,2.1322)">5.0</text>
<text transform="translate(285,300) scale(1.6863,2.1322) rotate(-10)">3.0</text>
<text transform="translate(148,368) scale(1.6863,2.1322)">2.0</text>
<text transform="translate(955,270) scale(1.6863,2.1322) rotate(80)">3.0</text>
<text transform="translate(622,432) scale(1.6863,2.1322) rotate(45)">0.0</text>
<text transform="translate(942,437) scale(1.6863,2.1322) rotate(-50)">2.0</text>
<text transform="translate(900,515) scale(1.6863,2.1322) rotate(60)">1.0</text>
<text transform="translate(285,567) scale(1.6863,2.1322) rotate(30)">-1.0</text>
<text transform="translate(778,605) scale(1.6863,2.1322) rotate(60)">-1.0</text>
<text transform="translate(1210,580) scale(1.6863,2.1322) rotate(-70)">-1.0</text>
<text transform="translate(418,853) scale(1.6863,2.1322)">0.0</text>
<text transform="translate(675,963) scale(1.6863,2.1322) rotate(15)">1.0</text>
<text transform="translate(75,1153) scale(1.6863,2.1322)">2.0</text>
<text transform="translate(25,268) scale(1.6863,2.1322)">0</text>
</g>
<use href="#bC" fill="#404040"/>
</svg>

<!-- ================= AXES: spines, ticks, labels ================= -->
<!-- (a) x0=697 y0=27 -->
<g>
<path class="sp" d="M697,27 H1599 M697,27 V738 M697,738 H1599"/>
<path class="sp" d="M691,27 H697 M691,158 H697 M691,289 H697 M691,420 H697 M691,551 H697 M691,682 H697 M775.6,738 V745 M933,738 V745 M1090.2,738 V745 M1247.5,738 V745 M1404.8,738 V745 M1562.1,738 V745"/>
<g class="tk" text-anchor="end">
<text x="678" y="35">0</text><text x="678" y="166">−1000</text><text x="678" y="297">−2000</text><text x="678" y="428">−3000</text><text x="678" y="559">−4000</text><text x="678" y="690">−5000</text>
</g>
<g class="tk" text-anchor="middle">
<text x="775.6" y="775">−20</text><text x="933" y="775">0</text><text x="1090.2" y="775">20</text><text x="1247.5" y="775">40</text><text x="1404.8" y="775">60</text><text x="1562.1" y="775">80</text>
</g>
<text class="ax" x="1165" y="810" text-anchor="middle" textLength="163" lengthAdjust="spacingAndGlyphs">Latitude (°N)</text>
<text class="ax" transform="translate(576,382) rotate(-90)" text-anchor="middle" textLength="128" lengthAdjust="spacingAndGlyphs">Depth (m)</text>
<text class="pl" x="572" y="862">(a)</text>
</g>
<!-- (b) x0=181 y0=924 -->
<g>
<path class="sp" d="M181,924 H1083 M181,924 V1635 M181,1635 H1083"/>
<path class="sp" d="M175,924 H181 M175,1055 H181 M175,1186 H181 M175,1317 H181 M175,1448 H181 M175,1579 H181 M259.6,1635 V1642 M417,1635 V1642 M574.2,1635 V1642 M731.5,1635 V1642 M888.8,1635 V1642 M1046.1,1635 V1642"/>
<g class="tk" text-anchor="end">
<text x="162" y="932">0</text><text x="162" y="1063">−1000</text><text x="162" y="1194">−2000</text><text x="162" y="1325">−3000</text><text x="162" y="1456">−4000</text><text x="162" y="1587">−5000</text>
</g>
<g class="tk" text-anchor="middle">
<text x="259.6" y="1672">−20</text><text x="417" y="1672">0</text><text x="574.2" y="1672">20</text><text x="731.5" y="1672">40</text><text x="888.8" y="1672">60</text><text x="1046.1" y="1672">80</text>
</g>
<text class="ax" x="652" y="1707" text-anchor="middle" textLength="163" lengthAdjust="spacingAndGlyphs">Latitude (°N)</text>
<text class="ax" transform="translate(60,1279) rotate(-90)" text-anchor="middle" textLength="128" lengthAdjust="spacingAndGlyphs">Depth (m)</text>
<text class="pl" x="121" y="1759">(b)</text>
</g>
<!-- (c) x0=1111 y0=924 -->
<g>
<path class="sp" d="M1111,924 H2013 M1111,924 V1635 M1111,1635 H2013"/>
<path class="sp" d="M1105,924 H1111 M1105,1055 H1111 M1105,1186 H1111 M1105,1317 H1111 M1105,1448 H1111 M1105,1579 H1111 M1189.6,1635 V1642 M1347,1635 V1642 M1504.2,1635 V1642 M1661.5,1635 V1642 M1818.8,1635 V1642 M1976.1,1635 V1642"/>
<g class="tk" text-anchor="middle">
<text x="1189.6" y="1672">−20</text><text x="1347" y="1672">0</text><text x="1504.2" y="1672">20</text><text x="1661.5" y="1672">40</text><text x="1818.8" y="1672">60</text><text x="1976.1" y="1672">80</text>
</g>
<text class="ax" x="1582" y="1707" text-anchor="middle" textLength="163" lengthAdjust="spacingAndGlyphs">Latitude (°N)</text>
<text class="pl" x="1088" y="1759">(c)</text>
</g>
<!-- (d) x0=181 y0=1821 -->
<g>
<path class="sp" d="M181,1821 H1083 M181,1821 V2532 M181,2532 H1083"/>
<path class="sp" d="M175,1821 H181 M175,1952 H181 M175,2083 H181 M175,2214 H181 M175,2345 H181 M175,2476 H181 M259.6,2532 V2539 M417,2532 V2539 M574.2,2532 V2539 M731.5,2532 V2539 M888.8,2532 V2539 M1046.1,2532 V2539"/>
<g class="tk" text-anchor="end">
<text x="162" y="1829">0</text><text x="162" y="1960">−1000</text><text x="162" y="2091">−2000</text><text x="162" y="2222">−3000</text><text x="162" y="2353">−4000</text><text x="162" y="2484">−5000</text>
</g>
<g class="tk" text-anchor="middle">
<text x="259.6" y="2569">−20</text><text x="417" y="2569">0</text><text x="574.2" y="2569">20</text><text x="731.5" y="2569">40</text><text x="888.8" y="2569">60</text><text x="1046.1" y="2569">80</text>
</g>
<text class="ax" x="652" y="2604" text-anchor="middle" textLength="163" lengthAdjust="spacingAndGlyphs">Latitude (°N)</text>
<text class="ax" transform="translate(60,2176) rotate(-90)" text-anchor="middle" textLength="128" lengthAdjust="spacingAndGlyphs">Depth (m)</text>
<text class="pl" x="121" y="2656">(d)</text>
</g>
<!-- (e) x0=1111 y0=1821 -->
<g>
<path class="sp" d="M1111,1821 H2013 M1111,1821 V2532 M1111,2532 H2013"/>
<path class="sp" d="M1105,1821 H1111 M1105,1952 H1111 M1105,2083 H1111 M1105,2214 H1111 M1105,2345 H1111 M1105,2476 H1111 M1189.6,2532 V2539 M1347,2532 V2539 M1504.2,2532 V2539 M1661.5,2532 V2539 M1818.8,2532 V2539 M1976.1,2532 V2539"/>
<g class="tk" text-anchor="middle">
<text x="1189.6" y="2569">−20</text><text x="1347" y="2569">0</text><text x="1504.2" y="2569">20</text><text x="1661.5" y="2569">40</text><text x="1818.8" y="2569">60</text><text x="1976.1" y="2569">80</text>
</g>
<text class="ax" x="1582" y="2604" text-anchor="middle" textLength="163" lengthAdjust="spacingAndGlyphs">Latitude (°N)</text>
<text class="pl" x="1088" y="2656">(e)</text>
</g>

<!-- ================= COLORBAR ================= -->
<g>
<polygon points="18,2749 116,2726 116,2772" fill="#543005"/>
<polygon points="1949,2726 2046,2749 1949,2772" fill="#003c30"/>
<rect x="116" y="2726" width="88" height="46" fill="#6a3e08"/>
<rect x="203.3" y="2726" width="88" height="46" fill="#844c09"/>
<rect x="290.6" y="2726" width="88" height="46" fill="#9c6016"/>
<rect x="377.9" y="2726" width="88" height="46" fill="#b37625"/>
<rect x="465.1" y="2726" width="88" height="46" fill="#c69142"/>
<rect x="552.4" y="2726" width="88" height="46" fill="#d5ae65"/>
<rect x="639.7" y="2726" width="88" height="46" fill="#e3c98a"/>
<rect x="727.0" y="2726" width="88" height="46" fill="#eed9a8"/>
<rect x="814.3" y="2726" width="88" height="46" fill="#f6e9c7"/>
<rect x="901.6" y="2726" width="88" height="46" fill="#f5efde"/>
<rect x="988.9" y="2726" width="88" height="46" fill="#f4f5f4"/>
<rect x="1076.1" y="2726" width="88" height="46" fill="#dff0ed"/>
<rect x="1163.4" y="2726" width="88" height="46" fill="#caeae5"/>
<rect x="1250.7" y="2726" width="88" height="46" fill="#acded7"/>
<rect x="1338.0" y="2726" width="88" height="46" fill="#8bd1c6"/>
<rect x="1425.3" y="2726" width="88" height="46" fill="#69bdb2"/>
<rect x="1512.6" y="2726" width="88" height="46" fill="#47a59b"/>
<rect x="1599.9" y="2726" width="88" height="46" fill="#2b8d85"/>
<rect x="1687.1" y="2726" width="88" height="46" fill="#13776e"/>
<rect x="1774.4" y="2726" width="88" height="46" fill="#016159"/>
<rect x="1861.7" y="2726" width="87.3" height="46" fill="#024e44"/>
<path stroke="#111" stroke-width="1.5" fill="none" d="M203.3,2726 V2772 M290.6,2726 V2772 M377.9,2726 V2772 M465.1,2726 V2772 M552.4,2726 V2772 M639.7,2726 V2772 M727,2726 V2772 M814.3,2726 V2772 M901.6,2726 V2772 M988.9,2726 V2772 M1076.1,2726 V2772 M1163.4,2726 V2772 M1250.7,2726 V2772 M1338,2726 V2772 M1425.3,2726 V2772 M1512.6,2726 V2772 M1599.9,2726 V2772 M1687.1,2726 V2772 M1774.4,2726 V2772 M1861.7,2726 V2772"/>
<path d="M18,2749 L116,2726 L1949,2726 L2046,2749 L1949,2772 L116,2772 Z" fill="none" stroke="#000" stroke-width="4" stroke-linejoin="miter"/>
<path stroke="#000" stroke-width="3" fill="none" d="M159.6,2772 V2789 M247,2772 V2789 M334.3,2772 V2789 M421.5,2772 V2789 M508.8,2772 V2789 M596.1,2772 V2789 M683.4,2772 V2789 M770.6,2772 V2789 M857.9,2772 V2789 M945.2,2772 V2789 M1032.5,2772 V2789 M1119.8,2772 V2789 M1207.1,2772 V2789 M1294.4,2772 V2789 M1381.6,2772 V2789 M1468.9,2772 V2789 M1556.2,2772 V2789 M1643.5,2772 V2789 M1730.8,2772 V2789 M1818.1,2772 V2789 M1905.4,2772 V2789"/>
<g class="cb">
<text x="159.6" y="2832">-5.0</text><text x="247" y="2832">-4.5</text><text x="334.3" y="2832">-4.0</text><text x="421.5" y="2832">-3.5</text><text x="508.8" y="2832">-3.0</text><text x="596.1" y="2832">-2.5</text><text x="683.4" y="2832">-2.0</text><text x="770.6" y="2832">-1.5</text><text x="857.9" y="2832">-1.0</text><text x="945.2" y="2832">-0.5</text><text x="1032.5" y="2832">0.0</text><text x="1119.8" y="2832">0.5</text><text x="1207.1" y="2832">1.0</text><text x="1294.4" y="2832">1.5</text><text x="1381.6" y="2832">2.0</text><text x="1468.9" y="2832">2.5</text><text x="1556.2" y="2832">3.0</text><text x="1643.5" y="2832">3.5</text><text x="1730.8" y="2832">4.0</text><text x="1818.1" y="2832">4.5</text><text x="1905.4" y="2832">5.0</text>
</g>
<text x="1041" y="2895" text-anchor="middle" style="font-family:'DejaVu Sans','Liberation Sans',sans-serif;font-size:47px;white-space:pre;" textLength="488" lengthAdjust="spacingAndGlyphs">AMOC anomaly  (Sv)</text>
</g>
</svg>
</body></html>
